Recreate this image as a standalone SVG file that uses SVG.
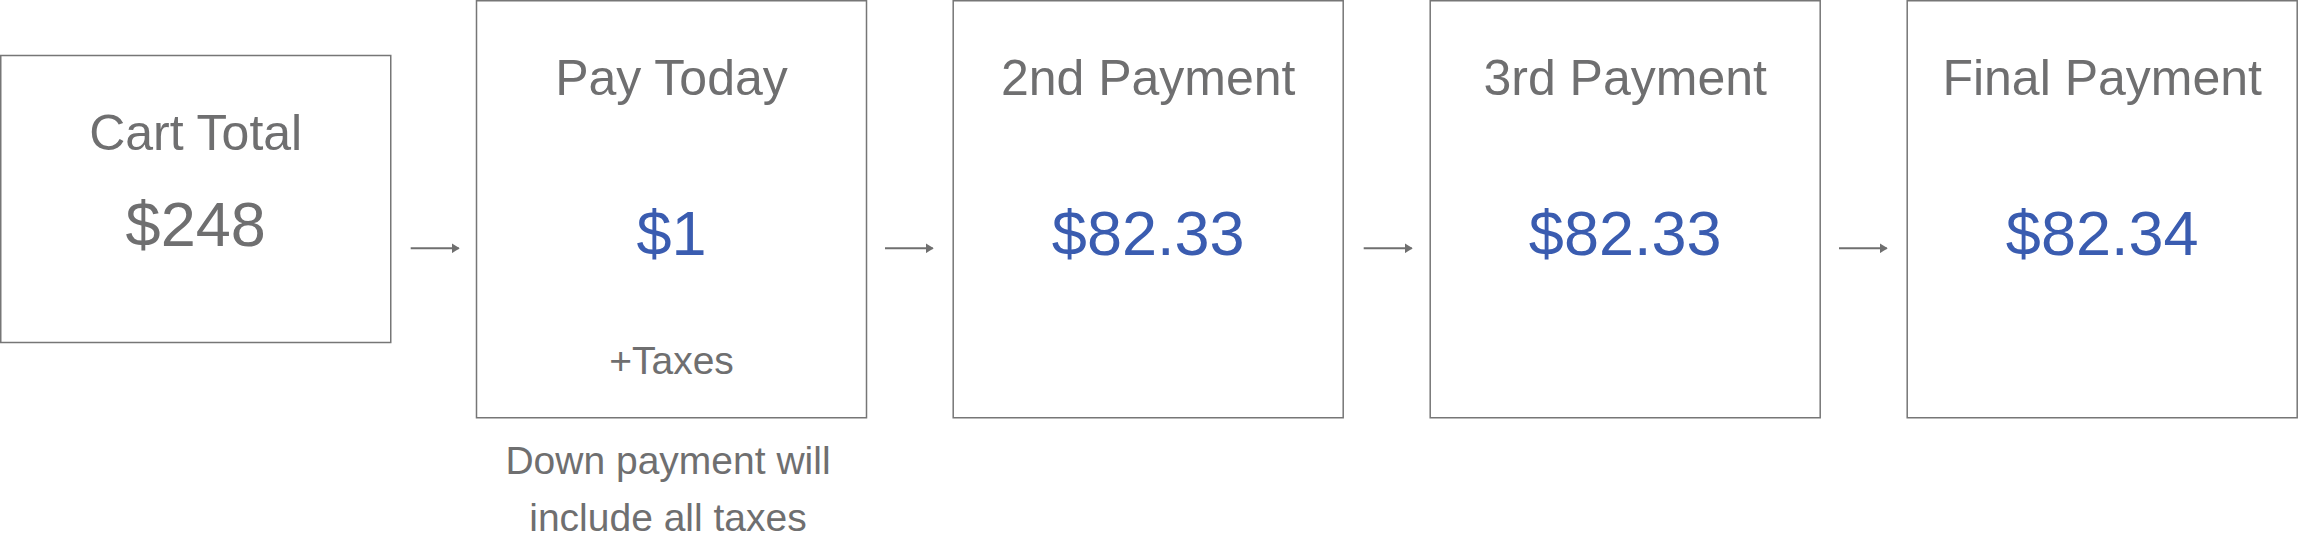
<svg xmlns="http://www.w3.org/2000/svg" width="2298" height="542" viewBox="0 0 2298 542">
<style>
.box{fill:#ffffff;stroke:#767676;stroke-width:1.5}
.t{font-family:"Liberation Sans",Arial,Helvetica,sans-serif;text-anchor:middle;fill:#6f6f70}
.title{font-size:50px}
.val{font-size:63px}
.blue{fill:#3a5cb0}
.small{font-size:39px}
.conn{stroke:#6f6f6f;stroke-width:2;fill:none}
</style>
<defs>
<marker id="ah" viewBox="0 0 8 10" refX="7" refY="5" markerWidth="8" markerHeight="10" markerUnits="userSpaceOnUse" orient="auto">
<path d="M0,0 L8,5 L0,10 Z" fill="#6f6f6f"/>
</marker>
</defs>
<rect width="2298" height="542" fill="#ffffff"/>
<g id="cart-total">
<rect class="box" x="0.75" y="55.5" width="390" height="287"/>
<text class="t title" x="195.7" y="149.5">Cart Total</text>
<text class="t val" x="195.7" y="246">$248</text>
</g>
<g id="pay-today">
<rect class="box" x="476.5" y="0.75" width="390" height="417"/>
<text class="t title" x="671.5" y="95">Pay Today</text>
<text class="t val blue" x="671.5" y="255">$1</text>
<text class="t small" x="671.5" y="374">+Taxes</text>
</g>
<g id="down-payment-note">
<text class="t small" x="668" y="474">Down payment will</text>
<text class="t small" x="668" y="531">include all taxes</text>
</g>
<g id="second-payment">
<rect class="box" x="953.2" y="0.75" width="390" height="417"/>
<text class="t title" x="1148.2" y="95">2nd Payment</text>
<text class="t val blue" x="1148.2" y="255">$82.33</text>
</g>
<g id="third-payment">
<rect class="box" x="1430.2" y="0.75" width="390" height="417"/>
<text class="t title" x="1625.2" y="95">3rd Payment</text>
<text class="t val blue" x="1625.2" y="255">$82.33</text>
</g>
<g id="final-payment">
<rect class="box" x="1907.2" y="0.75" width="390" height="417"/>
<text class="t title" x="2102.2" y="95">Final Payment</text>
<text class="t val blue" x="2102.2" y="255">$82.34</text>
</g>
<g id="connectors">
<line class="conn" x1="410.7" y1="248.3" x2="458.7" y2="248.3" marker-end="url(#ah)"/>
<line class="conn" x1="885" y1="248.3" x2="932.7" y2="248.3" marker-end="url(#ah)"/>
<line class="conn" x1="1363.7" y1="248.3" x2="1411.7" y2="248.3" marker-end="url(#ah)"/>
<line class="conn" x1="1839" y1="248.3" x2="1886.7" y2="248.3" marker-end="url(#ah)"/>
</g>
</svg>
